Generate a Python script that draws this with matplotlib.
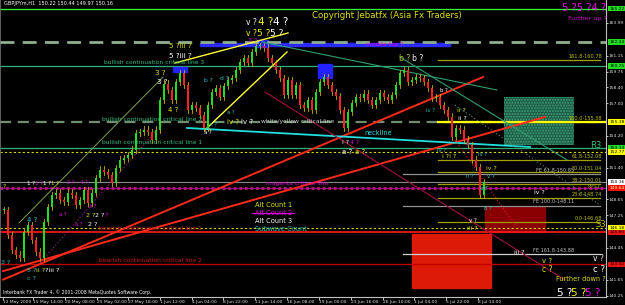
import matplotlib
matplotlib.use('Agg')
import matplotlib.pyplot as plt
import matplotlib.transforms as mtransforms
from matplotlib.patches import Rectangle

# ---------------- data ----------------
# close prices, one candle per 8 H1 bars
closes = [147.73, 145.55, 144.25, 143.82, 143.55, 145.82, 146.42, 145.12, 144.08, 143.55,
          146.68, 147.99, 149.03, 149.21, 148.60, 148.42, 149.21, 149.03, 148.16, 148.60,
          149.47, 148.34, 149.21, 150.51, 151.21, 151.03, 150.77, 150.08, 151.38, 152.08,
          152.25, 152.51, 152.95, 154.42, 154.51, 154.69, 154.51, 153.82, 154.69, 157.29,
          158.69, 158.16, 157.29, 158.86, 159.64, 158.60, 156.42, 156.86, 156.60, 155.99,
          154.86, 156.86, 157.99, 158.34, 157.55, 158.51, 159.03, 159.21, 159.90, 160.60,
          160.95, 160.51, 161.47, 161.99, 161.99, 161.82, 160.95, 160.51, 159.90, 159.21,
          157.73, 159.03, 157.73, 158.60, 156.86, 156.60, 157.29, 156.42, 157.99, 158.86,
          159.29, 158.60, 157.99, 157.64, 156.42, 154.86, 156.25, 157.03, 157.55, 157.47,
          157.82, 157.29, 156.86, 157.29, 157.90, 157.55, 157.29, 157.73, 158.60, 159.64,
          159.90, 158.86, 159.03, 159.29, 159.21, 158.86, 158.34, 157.47, 157.55, 156.86,
          156.42, 155.82, 154.08, 154.86, 154.69, 153.82, 153.38, 152.08, 151.47, 149.03,
          150.16]
bars_per_candle = 8

date_ticks = [0, 60, 124, 188, 250, 314, 378, 440, 504, 568, 632, 696, 760, 822, 886, 950]
date_labels = ["12 May 2009", "15 May 14:00", "20 May 08:00", "25 May 02:00", "27 May 18:00",
               "1 Jun 12:00", "4 Jun 04:00", "8 Jun 22:00", "11 Jun 14:00", "16 Jun 08:00",
               "19 Jun 00:00", "23 Jun 16:00", "26 Jun 10:00", "1 Jul 04:00", "5 Jul 22:00",
               "8 Jul 14:00"]
price_ticks = [163.99, 161.15, 159.75, 158.40, 157.00, 154.20, 151.40, 148.65, 147.25,
               144.45, 141.65, 140.25]

# horizontal levels
top_level = 165.22
double_top = 162.34
crit3 = 160.25
crit2 = 155.38
r3 = 153.13
yellow_dot_hi = 152.77
current = 150.16
magenta_crit = 149.64
yellow_dot_lo = 146.18
bear1 = 145.80
bear2 = 143.02
fib_levels = [160.78, 155.38, 152.08, 151.04, 150.01, 148.74, 146.68]
fib_names = ["161.8-160.78", "100.0-155.38", "61.8-152.08", "50.0-151.04",
             "38.2-150.01", "23.6-148.74", "0.0-146.68"]
fe_levels = [150.85, 148.11, 143.88]
fe_names = ["FE 61.8-150.85", "FE 100.0-148.11", "FE 161.8-143.88"]

# trend lines: (bar0, bar1), (price0, price1)
red_a = ([0, 960], [141.67, 159.29])
red_b = ([0, 1084], [142.41, 155.82])
yellow_1 = ([344, 570], [160.51, 163.12])
yellow_2 = ([404, 568], [154.69, 161.47])
green_1 = ([518, 988], [162.34, 158.16])
green_2 = ([794, 1128], [161.03, 152.08])
olive_long = ([32, 320], [146.60, 159.29])
magenta_dot = ([74, 320], [143.12, 155.29])
neckline = ([368, 1054], [154.86, 153.21])
maroon = ([524, 1124], [157.99, 141.64])
gray_dot = ([904, 1194], [156.86, 148.16])
red_dot = ([904, 1024], [153.82, 146.42])

# boxes: (bar0, bar1, price_low, price_high)
blue_boxes = [(340, 368, 159.73, 160.17), (508, 530, 161.90, 162.51), (630, 658, 159.21, 160.42)]
blue_bar = (394, 894, 161.99, 162.25)
green_zone = (1002, 1142, 153.38, 157.55)
dark_red_zone = (964, 1084, 145.82, 147.99)
red_zone = (818, 976, 140.95, 145.64)

# ---------------- figure ----------------
fig = plt.figure(figsize=(6.25, 3.05), dpi=100, facecolor='black')
ax = fig.add_axes([0, 8 / 305, 606 / 625, 297 / 305], facecolor='black')
XMIN, XMAX, YMIN, YMAX = -6, 1206, 140.16, 165.99
ax.set_xlim(XMIN, XMAX)
ax.set_ylim(YMIN, YMAX)


def X(px):
    return XMIN + px * (XMAX - XMIN) / 606


def Y(py):
    return YMAX - py * (YMAX - YMIN) / 297


FS = 4.3

# zones
for b0, b1, lo, hi in blue_boxes:
    ax.add_patch(Rectangle((b0, lo), b1 - b0, hi - lo, color='#2222ff', zorder=3))
ax.add_patch(Rectangle((blue_bar[0], blue_bar[2]), blue_bar[1] - blue_bar[0],
                       blue_bar[3] - blue_bar[2], color='#2a2aff', zorder=2))
ax.add_patch(Rectangle((green_zone[0], green_zone[2]), green_zone[1] - green_zone[0],
                       green_zone[3] - green_zone[2], facecolor='#1f5a45',
                       edgecolor='#3aa078', hatch='......', lw=0, zorder=1))
ax.add_patch(Rectangle((dark_red_zone[0], dark_red_zone[2]), dark_red_zone[1] - dark_red_zone[0],
                       dark_red_zone[3] - dark_red_zone[2], color='#8a0000', zorder=1))
ax.add_patch(Rectangle((red_zone[0], red_zone[2]), red_zone[1] - red_zone[0],
                       red_zone[3] - red_zone[2], color='#dd1a08', zorder=1))

# horizontal lines
ax.axhline(top_level, color='#33ff33', lw=0.9, zorder=2)
ax.axhline(double_top, color='#8fae8f', lw=2.0, dashes=(5, 3), zorder=3)
ax.axhline(crit3, color='#2fb27a', lw=0.9, zorder=2)
ax.axhline(crit2, color='#6f8f6f', lw=1.6, dashes=(5, 3), zorder=2)
ax.plot([870, XMAX], [crit2, crit2], color='#ffff00', lw=1.6, zorder=3)
ax.axhline(r3, color='#2fb27a', lw=0.9, zorder=2)
ax.axhline(yellow_dot_hi, color='#d8d800', lw=0.8, ls=(0, (2, 2)), zorder=2)
ax.axhline(current, color='#8a8a8a', lw=0.8, zorder=2)
ax.axhline(magenta_crit, color='#cc2060', lw=2.0, ls=(0, (1, 1)), zorder=2)
ax.axhline(magenta_crit, color='#b000b0', lw=0.6, zorder=2)
ax.axhline(yellow_dot_lo, color='#d8d800', lw=0.8, ls=(0, (2, 2)), zorder=2)
ax.axhline(bear1, color='#ff1a1a', lw=1.2, zorder=2)
ax.axhline(bear2, color='#c00000', lw=1.0, zorder=2)

for lv, nm in zip(fib_levels, fib_names):
    ax.plot([870, 1194], [lv, lv], color='#a0a000', lw=0.9, zorder=2)
for lv, nm, col in zip(fe_levels, fe_names, ['#909090', '#909090', '#d0d0d0']):
    ax.plot([800, 1194], [lv, lv], color=col, lw=0.9, zorder=2)

# trend lines
ax.plot(*red_a, color='#ff2a1a', lw=1.4, zorder=3)
ax.plot(*red_b, color='#ff2a1a', lw=1.4, zorder=3)
ax.plot(*yellow_1, color='#ffff33', lw=1.0, zorder=3)
ax.plot(*yellow_2, color='#ffff33', lw=1.0, zorder=3)
ax.plot(*green_1, color='#2fa070', lw=0.8, zorder=3)
ax.plot(*green_2, color='#2fa070', lw=0.8, zorder=3)
ax.plot(*olive_long, color='#7fa050', lw=0.7, zorder=3)
ax.plot(*magenta_dot, color='#a0208a', lw=0.8, ls=(0, (1, 2)), zorder=3)
ax.plot(*neckline, color='#20e0e0', lw=1.3, zorder=3)
ax.plot(*maroon, color='#a01040', lw=0.8, zorder=3)
ax.plot(*gray_dot, color='#5a8a6a', lw=0.8, ls=(0, (1, 2)), zorder=3)
ax.plot(*red_dot, color='#e02020', lw=0.8, ls=(0, (1, 2)), zorder=3)

# candles
prev = closes[0]
for i, c in enumerate(closes):
    b = 2 + i * bars_per_candle
    o = prev
    lo, hi = min(o, c), max(o, c)
    up = c >= o
    ax.plot([b, b], [lo - 0.3, hi + 0.3], color='#c8b400', lw=0.6, zorder=4)
    ax.add_patch(Rectangle((b - 2.5, lo), 5, max(hi - lo, 0.05),
                           color='#22dd22' if up else '#ff2222', lw=0, zorder=5))
    prev = c


# ---------------- texts ----------------
def T(px, py, s, color, size=FS, ha='left', va='center', **kw):
    ax.text(X(px), Y(py), s, color=color, fontsize=size, ha=ha, va=va, zorder=6, **kw)


T(4, 4, "GBPJPYm,H1  150.22 150.44 149.97 150.16", 'white', 3.6)
T(312, 16, "Copyright Jebatfx (Asia Fx Traders)", '#e0e000', 6.2)
T(562, 8, "5 ?5 ?4 ?", '#dd00dd', 7.2)
T(568, 19, "Further up ?", '#cc00cc', 4.6)

T(246, 23, "v ?", 'white', 5.5)
T(258, 22, "4 ?", '#f0f000', 7.5)
T(273, 22, "4 ?", 'white', 7.5)
T(246, 33, "v ?", '#f0f000', 5.5)
T(257, 33, "5 ?", '#f0f000', 6.5)
T(270, 33, "5 ?", 'white', 6.5)
T(248, 41, "3 ?", '#dd00dd', 4.5)
T(169, 46, "5 ?iii ?", '#e0e000', 5.2)
T(169, 56, "5 ?iii ?", 'white', 5.2)
T(366, 45, "double top ?", '#dd00dd', FS)
T(399, 59, "b ?", '#c0c000', 5.5)
T(412, 59, "b ?", 'white', 5.5)
T(104, 63, "bullish continuation critical line 3", '#30c080', FS)
T(155, 73, "3 ?", '#e0e000', 5)
T(157, 82, "3 ?", 'white', 5)
T(204, 80, "b ?", '#20c0c0', FS)
T(220, 79, "d ?", '#20c0c0', FS)
T(168, 110, "4 ?", '#e0e000', 5)
T(227, 113, "a ?", '#20c0c0', 3.8)
T(210, 125, "c ?", '#20c0c0', 3.8)
T(204, 133, "a ?", 'white', 3.8)
T(102, 120, "bullish continuation critical line 2", '#30c080', FS)
T(227, 122, "iv ?", '#e0e000', 5)
T(241, 122, "iv ?", 'white', 5)
T(261, 122, "white/yellow critical line", '#d0d0d0', FS)
T(364, 133, "neckline", '#20e0e0', FS + 0.4)
T(102, 143, "bullish continuation critical line 1", '#30c080', FS)
T(342, 143, "i ?", 'white', 4.5)
T(350, 143, "4 ?", '#dd00dd', 4.5)
T(342, 152, "a ?", 'white', 5)
T(355, 152, "a ?", '#e0e000', 5)
T(440, 90, "b ?", 'white', 3.8)
T(426, 111, "iv ?", '#20c0c0', 3.8)
T(457, 111, "ii ?", '#e0e000', 4.5)
T(458, 119, "ii ?", 'white', 4.5)
T(437, 150, "iv ?", '#20c0c0', 3.8)
T(442, 157, "i ?i ?", '#e0e000', 4.5)
T(478, 155, "iv ?", '#20c0c0', 3.8)
T(486, 169, "iv ?", '#e0e000', 4.5)
T(466, 177, "ii ?", '#20c0c0', 4)
T(487, 177, "v ?", '#20c0c0', 4)
T(480, 188, "b ?", '#20c0c0', 3.8)
T(534, 193, "iv ?", 'white', 4.5)
T(484, 209, "b ?", '#20c0c0', 4)
T(469, 221, "v ?", 'white', 4)
T(467, 228, "iii ?", '#e0e000', 4.5)
T(514, 252, "iii ?", 'white', 4.5)
T(542, 261, "v ?", '#e0e000', 5)
T(542, 270, "c ?", '#e0e000', 5.5)
T(593, 259, "v ?", 'white', 5.5)
T(593, 270, "c ?", 'white', 6.2)
T(556, 279, "Further down ?", '#e0e000', 4.8)
T(557, 293, "5 ?", 'white', 7.5)
T(571, 293, "5 ?", '#f0f000', 7.5)
T(585, 293, "5 ?", '#dd00dd', 7.5)
T(590, 146, "R3", '#30c080', 6)
T(595, 225, "S3", '#c0c000', 6)
T(588, 186, "PPS1", '#a0a000', 3.8)

for lv, nm in zip(fib_levels, fib_names):
    ax.text(X(602), lv + 0.1, nm, color='#c0c000', fontsize=3.6, ha='right', va='bottom', zorder=6)
for lv, nm in zip(fe_levels, fe_names):
    ax.text(X(574), lv + 0.1, nm, color='#c0c0c0', fontsize=3.6, ha='right', va='bottom', zorder=6)

T(266, 184, "magenta critical line", '#dd00dd', FS)
T(3, 186, "?", '#e0e000', 4.5)
T(27, 184, "1 ?", 'white', 4)
T(35, 184, "1 ?", '#dd00dd', 4)
T(43, 184, "1 ?", 'white', 4)
T(51, 184, "1 ?", '#e0e000', 4)
T(67, 183, "2 ?", '#dd00dd', 3.8)
T(80, 183, "4 ?", '#dd00dd', 3.8)
T(59, 215, "a ?", '#dd00dd', 3.8)
T(89, 207, "a ?", '#dd00dd', 3.6)
T(75, 225, "a ?", '#dd00dd', 3.8)
T(86, 216, "2 ?", '#e0e000', 4.6)
T(95, 216, "2 ?", 'white', 4.6)
T(104, 216, "?", '#dd00dd', 4.6)
T(88, 225, "2 ?", 'white', 4.6)
T(27, 220, "4 ?", '#20c0c0', 5)

T(255, 205, "Alt Count 1", '#e0e000', 4.8)
T(255, 213, "Alt Count 2", '#dd00dd', 4.8)
ax.plot([X(252), X(294)], [Y(213), Y(213)], color='#dd00dd', lw=0.8, zorder=6)
T(255, 221, "Alt Count 3", 'white', 4.8)
T(255, 229, "Subwave Count", '#20c0c0', 4.8)
T(99, 229, "bearish continuation critical line 1", '#d01818', FS)
T(99, 261, "bearish continuation critical line 2", '#d01818', FS)
T(1, 262, "3 ?", '#20c0c0', 4.5)
T(27, 270, "5 ?", '#20c0c0', 4.6)
T(36, 271, "ii ?", '#e0e000', 4.6)
T(45, 271, "?iii ?", 'white', 4.6)
T(27, 279, "c ?", '#20c0c0', 4.6)
T(3, 292, "Interbank FX Trader 4, \u00a9 2001-2008 MetaQuotes Software Corp.", 'white', 3.3)

# ---------------- axes ----------------
ax.spines['top'].set_visible(False)
ax.spines['left'].set_color('#707070')
ax.spines['left'].set_linewidth(0.6)
ax.spines['right'].set_color('#c0c0c0')
ax.spines['right'].set_linewidth(0.8)
ax.spines['bottom'].set_color('#c0c0c0')
ax.spines['bottom'].set_linewidth(0.8)

ax.yaxis.tick_right()
ax.set_yticks(price_ticks)
ax.set_yticklabels([f"{v:.2f}" for v in price_ticks])
ax.tick_params(axis='y', colors='#e0e0e0', labelsize=3.2, length=1.5, width=0.6, pad=0.5)
ax.set_xticks(date_ticks)
ax.set_xticklabels(date_labels, ha='left')
ax.tick_params(axis='x', colors='#e0e0e0', labelsize=3.2, length=2, width=0.6, pad=0.5)

blend = mtransforms.blended_transform_factory(ax.transAxes, ax.transData)
hl = [(top_level, '#22dd22', 'black'), (double_top, '#22dd22', 'black'),
      (crit3, '#22dd22', 'black'), (crit2, '#ffff00', 'black'), (r3, '#22dd22', 'black'),
      (yellow_dot_hi, '#ffff00', 'black'), (current, 'white', 'black'),
      (magenta_crit, '#ee1111', '#ffff80'), (yellow_dot_lo, '#ffff00', 'black'),
      (bear1, '#ee1111', 'black'), (bear2, '#ee1111', 'black')]
for lv, fc, tc in hl:
    ax.text(1.005, lv, f"{lv:.2f}", transform=blend, fontsize=3.2, color=tc, ha='left',
            va='center', clip_on=False, zorder=7,
            bbox=dict(boxstyle='square,pad=0.12', facecolor=fc, edgecolor='none'))

fig.savefig('out.png', dpi=100, facecolor='black')
